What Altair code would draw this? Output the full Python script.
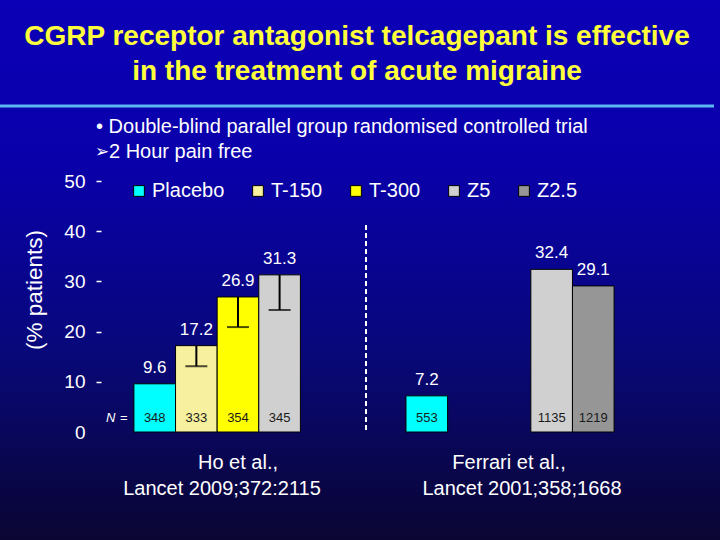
import altair as alt
import pandas as pd

# ---------------- data ----------------
studies = ["Ho et al.", "Ho et al.", "Ho et al.", "Ho et al.",
           "Ferrari et al.", "Ferrari et al.", "Ferrari et al."]
treatments = ["Placebo", "T-150", "T-300", "Z5", "Placebo", "Z5", "Z2.5"]
pain_free = [9.6, 17.2, 26.9, 31.3, 7.2, 32.4, 29.1]
n_patients = ["348", "333", "354", "345", "553", "1135", "1219"]

err_studies = ["Ho et al.", "Ho et al.", "Ho et al."]
err_treatments = ["T-150", "T-300", "Z5"]
err_top = [17.2, 26.9, 31.3]
err_low = [13.1, 20.9, 24.3]

study_order = ["Ho et al.", "Ferrari et al."]
legend_order = ["Placebo", "T-150", "T-300", "Z5", "Z2.5"]
legend_colors = ["#00ffff", "#f7f09e", "#ffff00", "#d0d0d0", "#969696"]
y_ticks = [0, 10, 20, 30, 40, 50]

title_lines = ["CGRP receptor antagonist telcagepant is effective",
               "in the treatment of acute migraine"]
subtitle_1 = "\u2022 Double-blind parallel group randomised controlled trial"
subtitle_2 = "2 Hour pain free"
ref_ho = ["Ho et al.,", "Lancet 2009;372:2115"]
ref_ferrari = ["Ferrari et al.,", "Lancet 2001;358;1668"]

# ---------------- layout ----------------
L, T, W, H = 101, 181, 546, 251
FONT = "Liberation Sans"

def px(x):
    return x - L

def py(y):
    return y - T

bars_df = pd.DataFrame({"study": studies, "treatment": treatments,
                        "value": pain_free, "n": n_patients})
err_df = pd.DataFrame({"study": err_studies, "treatment": err_treatments,
                       "top": err_top, "low": err_low})
one = pd.DataFrame({"k": [0]})

x_enc = alt.X("study:N", sort=study_order,
              scale=alt.Scale(domain=study_order, paddingInner=0.235, paddingOuter=0.121),
              axis=None)
xo_enc = alt.XOffset("treatment:N",
                     scale=alt.Scale(domain=legend_order, paddingInner=0, paddingOuter=0))
y_scale = alt.Scale(domain=[0, 50], nice=False, zero=True)

bg = alt.Chart(one).mark_rect(
    color=alt.LinearGradient(
        gradient="linear",
        stops=[alt.GradientStop(color="#0c00b6", offset=0),
               alt.GradientStop(color="#0a00aa", offset=0.3),
               alt.GradientStop(color="#08087a", offset=0.65),
               alt.GradientStop(color="#0a0532", offset=1)],
        x1=0, x2=0, y1=0, y2=1)
).encode(x=alt.value(px(0)), x2=alt.value(px(720)), y=alt.value(py(0)), y2=alt.value(py(540)))

bars = alt.Chart(bars_df).mark_bar(stroke="black", strokeWidth=1).encode(
    x=x_enc, xOffset=xo_enc,
    y=alt.Y("value:Q", scale=y_scale,
            axis=alt.Axis(values=y_ticks, title=None, domain=False, grid=False,
                          tickSize=5, tickWidth=1.5, zindex=2,
                          tickColor=alt.condition("datum.value == 0", alt.value("transparent"), alt.value("white")),
                          labelColor="white", labelFontSize=19, labelFont=FONT,
                          labelPadding=11, labelFlush=False, labelOverlap=False)),
    color=alt.Color("treatment:N",
                    scale=alt.Scale(domain=legend_order, range=legend_colors),
                    legend=alt.Legend(orient="none", legendX=28, legendY=0,
                                      direction="horizontal", title=None,
                                      symbolType="square", symbolSize=115,
                                      symbolStrokeColor="black", symbolStrokeWidth=1,
                                      symbolOpacity=1, labelColor="white",
                                      labelFontSize=20, labelFont=FONT,
                                      labelOffset=3, columnPadding=23, padding=0,
                                      zindex=2))
)

value_labels = alt.Chart(bars_df).mark_text(
    dy=-16, color="white", fontSize=17, font=FONT, baseline="middle"
).encode(x=x_enc, xOffset=xo_enc, y=alt.Y("value:Q", scale=y_scale),
         text=alt.Text("value:Q", format=".1f"))

n_labels = alt.Chart(bars_df).mark_text(
    color="#1a1a1a", fontSize=13, font=FONT, baseline="middle"
).encode(x=x_enc, xOffset=xo_enc, y=alt.value(py(418)), text="n:N")

err_rule = alt.Chart(err_df).mark_rule(color="black", strokeWidth=2).encode(
    x=x_enc, xOffset=xo_enc,
    y=alt.Y("top:Q", scale=y_scale), y2="low:Q")
err_cap = alt.Chart(err_df).mark_tick(color="black", thickness=2, size=22).encode(
    x=x_enc, xOffset=xo_enc, y=alt.Y("low:Q", scale=y_scale))

def txt(s, x, y, size, color="white", align="center", weight="normal", style="normal", angle=0, font=FONT):
    kw = dict(text=s, fontSize=size, color=color, align=align, baseline="middle",
              font=font, fontWeight=weight, fontStyle=style)
    if angle:
        kw["angle"] = angle
    return alt.Chart(one).mark_text(**kw).encode(x=alt.value(px(x)), y=alt.value(py(y)))

deco = [
    txt(title_lines[0], 357, 37, 28, color="#ffff3c", weight="bold"),
    txt(title_lines[1], 357, 72, 28, color="#ffff3c", weight="bold"),
    alt.Chart(one).mark_rule(color="#5cb6f2", strokeWidth=3).encode(
        x=alt.value(px(0)), x2=alt.value(px(714)), y=alt.value(py(106))),
    txt(subtitle_1, 96, 127, 20, align="left"),
    txt("\u27a2", 95, 152, 17, align="left", font="DejaVu Sans"),
    txt(subtitle_2, 109, 152, 20, align="left"),
    txt("(% patients)", 35, 290, 22.5, angle=270),
    txt("N", 106, 418, 13, align="left", style="italic"),
    txt("=", 120, 418, 13, align="left"),
    alt.Chart(one).mark_rule(color="white", strokeWidth=2, strokeDash=[5, 3]).encode(
        x=alt.value(px(366)), y=alt.value(py(225)), y2=alt.value(py(432))),
    txt(ref_ho[0], 238, 463, 20),
    txt(ref_ho[1], 222, 489, 20),
    txt(ref_ferrari[0], 509, 463, 20),
    txt(ref_ferrari[1], 522, 489, 20),
]

chart = alt.layer(bg, bars, err_rule, err_cap, value_labels, n_labels, *deco).properties(
    width=W, height=H,
    autosize=alt.AutoSizeParams(type="none"),
    padding={"left": L, "top": T, "right": 720 - L - W, "bottom": 540 - T - H},
    background="#0a0532",
).configure_view(stroke=None)

chart.save("out.html", embed_options={"renderer": "svg", "actions": False})
